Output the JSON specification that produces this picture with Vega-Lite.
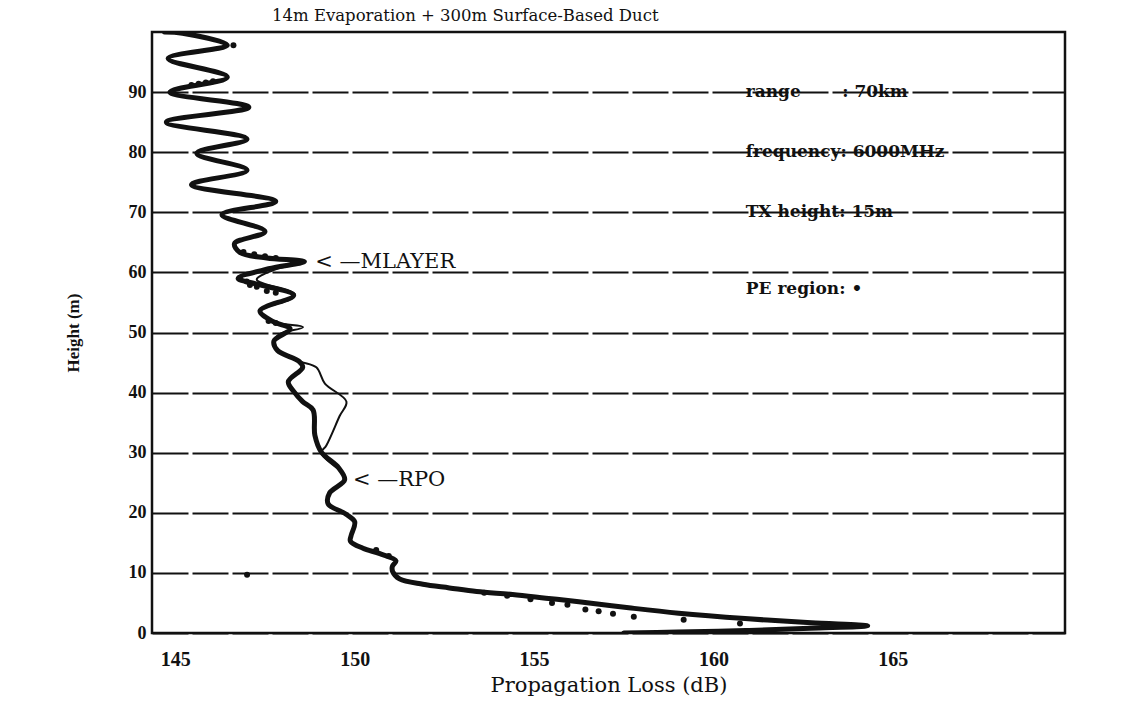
{
  "$schema": "https://vega.github.io/schema/vega-lite/v6.json",
  "width": 913,
  "height": 601,
  "autosize": {"type": "none"},
  "padding": {"left": 152, "top": 32, "right": 72, "bottom": 90},
  "background": "white",
  "title": {"text": "14m Evaporation + 300m Surface-Based Duct", "anchor": "start", "frame": "group", "dx": 120, "offset": 8, "font": "DejaVu Serif", "fontSize": 16.5, "fontWeight": "normal", "color": "#111"},
  "config": {"view": {"stroke": "#111", "strokeWidth": 2.5}},
  "datasets": {
    "thick": [
      {"i": 1, "loss": 144.7, "h": 100.0},
      {"i": 2, "loss": 145.2, "h": 99.8},
      {"i": 3, "loss": 146.45, "h": 97.8},
      {"i": 4, "loss": 144.8, "h": 95.6},
      {"i": 5, "loss": 146.45, "h": 92.5},
      {"i": 6, "loss": 144.85, "h": 90.0},
      {"i": 7, "loss": 147.05, "h": 87.5},
      {"i": 8, "loss": 144.75, "h": 85.0},
      {"i": 9, "loss": 147.0, "h": 82.2},
      {"i": 10, "loss": 145.6, "h": 79.8},
      {"i": 11, "loss": 147.0, "h": 77.0},
      {"i": 12, "loss": 145.45, "h": 74.6},
      {"i": 13, "loss": 147.8, "h": 71.8},
      {"i": 14, "loss": 146.3, "h": 69.6},
      {"i": 15, "loss": 147.5, "h": 66.8},
      {"i": 16, "loss": 146.65, "h": 64.8},
      {"i": 17, "loss": 146.8, "h": 63.3},
      {"i": 18, "loss": 147.55, "h": 62.4},
      {"i": 19, "loss": 148.6, "h": 61.8},
      {"i": 20, "loss": 147.6, "h": 60.6},
      {"i": 21, "loss": 146.75, "h": 59.0},
      {"i": 22, "loss": 147.3, "h": 58.0},
      {"i": 23, "loss": 148.3, "h": 56.2},
      {"i": 24, "loss": 147.36, "h": 53.6},
      {"i": 25, "loss": 147.73, "h": 51.8},
      {"i": 26, "loss": 148.2, "h": 50.6},
      {"i": 27, "loss": 147.75, "h": 48.6},
      {"i": 28, "loss": 147.85, "h": 47.0},
      {"i": 29, "loss": 148.45, "h": 45.2},
      {"i": 30, "loss": 148.55, "h": 44.2},
      {"i": 31, "loss": 148.15, "h": 41.8},
      {"i": 32, "loss": 148.3, "h": 40.2},
      {"i": 33, "loss": 148.55, "h": 38.5},
      {"i": 34, "loss": 148.84, "h": 37.1},
      {"i": 35, "loss": 148.89, "h": 32.9},
      {"i": 36, "loss": 149.07, "h": 30.1},
      {"i": 37, "loss": 149.55, "h": 27.5},
      {"i": 38, "loss": 149.72, "h": 25.5},
      {"i": 39, "loss": 149.3, "h": 23.3},
      {"i": 40, "loss": 149.26, "h": 21.5},
      {"i": 41, "loss": 149.75, "h": 19.8},
      {"i": 42, "loss": 150.0, "h": 18.5},
      {"i": 43, "loss": 149.9, "h": 16.2},
      {"i": 44, "loss": 149.88, "h": 15.3},
      {"i": 45, "loss": 150.23, "h": 14.1},
      {"i": 46, "loss": 150.7, "h": 13.2},
      {"i": 47, "loss": 151.15, "h": 12.0},
      {"i": 48, "loss": 151.05, "h": 11.1},
      {"i": 49, "loss": 151.06, "h": 10.2},
      {"i": 50, "loss": 151.25, "h": 9.0},
      {"i": 51, "loss": 151.9, "h": 8.1},
      {"i": 52, "loss": 152.64, "h": 7.5},
      {"i": 53, "loss": 153.4, "h": 6.9},
      {"i": 54, "loss": 154.4, "h": 6.4},
      {"i": 55, "loss": 155.33, "h": 5.8},
      {"i": 56, "loss": 156.25, "h": 5.2},
      {"i": 57, "loss": 157.64, "h": 4.2},
      {"i": 58, "loss": 159.03, "h": 3.3},
      {"i": 59, "loss": 160.88, "h": 2.4},
      {"i": 60, "loss": 162.73, "h": 1.7},
      {"i": 61, "loss": 164.3, "h": 1.2},
      {"i": 62, "loss": 162.7, "h": 0.8},
      {"i": 63, "loss": 160.9, "h": 0.4},
      {"i": 64, "loss": 159.0, "h": 0.15},
      {"i": 65, "loss": 157.5, "h": 0.0}
    ],
    "thin": [
      {"i": 1, "loss": 147.55, "h": 62.4},
      {"i": 2, "loss": 148.6, "h": 61.8},
      {"i": 3, "loss": 147.8, "h": 60.5},
      {"i": 4, "loss": 147.27, "h": 58.8},
      {"i": 5, "loss": 148.33, "h": 56.4},
      {"i": 6, "loss": 148.19, "h": 55.5},
      {"i": 7, "loss": 147.36, "h": 53.6},
      {"i": 8, "loss": 147.73, "h": 51.8},
      {"i": 9, "loss": 148.56, "h": 50.9},
      {"i": 10, "loss": 147.9, "h": 49.7},
      {"i": 11, "loss": 147.78, "h": 48.6},
      {"i": 12, "loss": 147.85, "h": 47.0},
      {"i": 13, "loss": 148.47, "h": 45.2},
      {"i": 14, "loss": 148.93, "h": 44.2},
      {"i": 15, "loss": 149.17, "h": 41.5},
      {"i": 16, "loss": 149.77, "h": 38.5},
      {"i": 17, "loss": 149.58, "h": 36.1},
      {"i": 18, "loss": 149.21, "h": 31.2},
      {"i": 19, "loss": 149.07, "h": 30.0},
      {"i": 20, "loss": 149.5, "h": 27.5}
    ],
    "dots": [
      {"loss": 146.62, "h": 97.8},
      {"loss": 145.45, "h": 91.2},
      {"loss": 145.65, "h": 91.4},
      {"loss": 145.85, "h": 91.6},
      {"loss": 146.05, "h": 91.8},
      {"loss": 146.9, "h": 63.4},
      {"loss": 147.2, "h": 63.0},
      {"loss": 147.5, "h": 62.7},
      {"loss": 147.8, "h": 62.4},
      {"loss": 146.8, "h": 59.1},
      {"loss": 146.99, "h": 58.5},
      {"loss": 147.08, "h": 57.9},
      {"loss": 147.27, "h": 57.6},
      {"loss": 147.55, "h": 56.9},
      {"loss": 147.8, "h": 56.6},
      {"loss": 147.6, "h": 51.9},
      {"loss": 147.8, "h": 51.6},
      {"loss": 150.6, "h": 13.8},
      {"loss": 150.95, "h": 12.8},
      {"loss": 147.0, "h": 9.7},
      {"loss": 153.61, "h": 6.7},
      {"loss": 154.25, "h": 6.2},
      {"loss": 154.9, "h": 5.6},
      {"loss": 155.5, "h": 5.0},
      {"loss": 155.93, "h": 4.7},
      {"loss": 156.43, "h": 3.9},
      {"loss": 156.8, "h": 3.6},
      {"loss": 157.2, "h": 3.2},
      {"loss": 157.78, "h": 2.7},
      {"loss": 159.17, "h": 2.2},
      {"loss": 160.74, "h": 1.6}
    ],
    "notes": [
      {"loss": 160.9, "h": 90, "label": "range\u00a0\u00a0\u00a0\u00a0\u00a0\u00a0\u00a0: 70km"},
      {"loss": 160.9, "h": 80, "label": "frequency: 6000MHz"},
      {"loss": 160.9, "h": 70, "label": "TX height: 15m"},
      {"loss": 160.9, "h": 57.3, "label": "PE region: •"}
    ],
    "arrows": [
      {"loss": 148.9, "h": 61.8, "label": "<\u00a0—MLAYER"},
      {"loss": 149.95, "h": 25.5, "label": "<\u00a0—RPO"}
    ]
  },
  "layer": [
    {
      "data": {"name": "thick"},
      "mark": {"type": "line", "color": "#111", "strokeWidth": 5, "strokeJoin": "round", "strokeCap": "round", "interpolate": "catmull-rom", "clip": true},
      "encoding": {
        "x": {"field": "loss", "type": "quantitative",
          "scale": {"domain": [144.35, 169.8], "nice": false, "zero": false},
          "axis": {"values": [145, 150, 155, 160, 165], "title": "Propagation Loss (dB)", "grid": false, "domain": false, "ticks": false,
            "labelFont": "Liberation Serif", "labelFontSize": 20, "labelFontWeight": "bold", "labelColor": "#111", "labelPadding": 16,
            "titleFont": "DejaVu Serif", "titleFontSize": 21, "titleFontWeight": "normal", "titleColor": "#111", "titlePadding": 5}},
        "y": {"field": "h", "type": "quantitative",
          "scale": {"domain": [0, 100], "nice": false, "zero": true},
          "axis": {"values": [0, 10, 20, 30, 40, 50, 60, 70, 80, 90], "title": "Height (m)", "grid": true, "gridColor": "#111", "gridWidth": 2, "gridDash": [36, 4],
            "domain": false, "ticks": false,
            "labelFont": "Liberation Serif", "labelFontSize": 18, "labelFontWeight": "bold", "labelColor": "#111", "labelPadding": 6,
            "titleFont": "Liberation Serif", "titleFontSize": 17, "titleFontWeight": "bold", "titleColor": "#111", "titlePadding": 46}},
        "order": {"field": "i", "type": "quantitative"}
      }
    },
    {
      "data": {"name": "thin"},
      "mark": {"type": "line", "color": "#111", "strokeWidth": 2, "strokeJoin": "round", "interpolate": "catmull-rom"},
      "encoding": {
        "x": {"field": "loss", "type": "quantitative"},
        "y": {"field": "h", "type": "quantitative"},
        "order": {"field": "i", "type": "quantitative"}
      }
    },
    {
      "data": {"name": "dots"},
      "mark": {"type": "point", "filled": true, "color": "#111", "size": 36, "opacity": 1},
      "encoding": {
        "x": {"field": "loss", "type": "quantitative"},
        "y": {"field": "h", "type": "quantitative"}
      }
    },
    {
      "data": {"name": "notes"},
      "mark": {"type": "text", "align": "left", "baseline": "middle", "font": "DejaVu Serif", "fontSize": 17, "fontWeight": "bold", "color": "#111"},
      "encoding": {
        "x": {"field": "loss", "type": "quantitative"},
        "y": {"field": "h", "type": "quantitative"},
        "text": {"field": "label"}
      }
    },
    {
      "data": {"name": "arrows"},
      "mark": {"type": "text", "align": "left", "baseline": "middle", "font": "DejaVu Serif", "fontSize": 21, "color": "#111"},
      "encoding": {
        "x": {"field": "loss", "type": "quantitative"},
        "y": {"field": "h", "type": "quantitative"},
        "text": {"field": "label"}
      }
    }
  ]
}
